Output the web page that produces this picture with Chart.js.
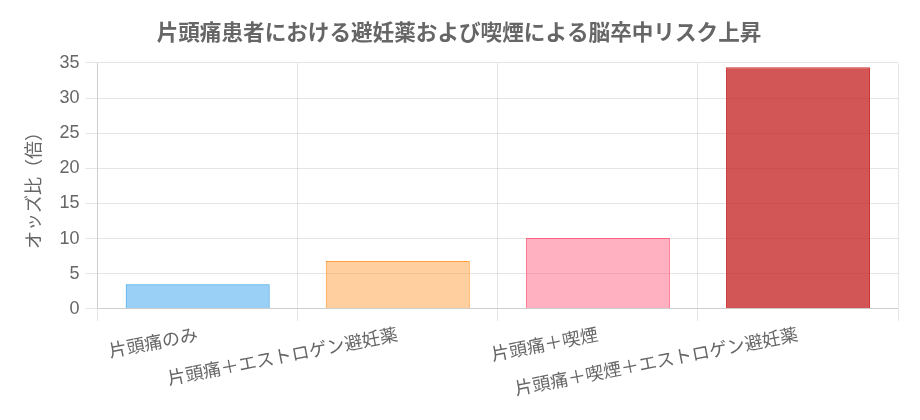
<!DOCTYPE html>
<html>
<head>
<meta charset="utf-8">
<script src="https://cdn.jsdelivr.net/npm/chart.js@4.4.0/dist/chart.umd.min.js"></script>
<style>
html,body{margin:0;padding:0;background:#fff;}
#wrap{width:920px;height:420px;position:relative;}
</style>
</head>
<body>
<div id="wrap"><canvas id="c"></canvas></div>
<script>
const categories = ['片頭痛のみ', '片頭痛＋エストロゲン避妊薬', '片頭痛＋喫煙', '片頭痛＋喫煙＋エストロゲン避妊薬'];
const oddsRatios = [3.5, 6.8, 10.1, 34.4];
const fillColors = ['rgba(54,162,235,0.5)', 'rgba(255,159,64,0.5)', 'rgba(255,99,132,0.5)', 'rgba(195,30,30,0.75)'];
const borderColors = ['rgb(54,162,235)', 'rgb(255,159,64)', 'rgb(255,99,132)', 'rgb(205,50,50)'];
const titleText = '片頭痛患者における避妊薬および喫煙による脳卒中リスク上昇';
const yTitle = 'オッズ比（倍）';

Chart.defaults.font.family = "'Liberation Sans', 'Noto Sans CJK JP', sans-serif";
Chart.defaults.color = '#666';

new Chart(document.getElementById('c'), {
  type: 'bar',
  data: {
    labels: categories,
    datasets: [{
      data: oddsRatios,
      backgroundColor: fillColors,
      borderColor: borderColors,
      borderWidth: 1
    }]
  },
  options: {
    responsive: true,
    maintainAspectRatio: false,
    animation: false,
    layout: { padding: { left: 20, right: 22, top: 10, bottom: 15 } },
    plugins: {
      legend: { display: false },
      title: {
        display: true,
        text: titleText,
        font: { size: 21.6, weight: 'bold' },
        color: '#666',
        padding: { top: 11, bottom: 16 }
      }
    },
    scales: {
      x: {
        ticks: { font: { size: 18 }, color: '#666', maxRotation: 11, minRotation: 11, autoSkip: false, padding: 4 },
        grid: { color: 'rgba(0,0,0,0.1)', tickLength: 12 }
      },
      y: {
        min: 0, max: 35,
        ticks: { stepSize: 5, font: { size: 18 }, color: '#666', padding: 6 },
        grid: { color: 'rgba(0,0,0,0.1)', tickLength: 12 },
        title: { display: true, text: yTitle, font: { size: 18 }, color: '#666', padding: { top: 4, bottom: 8 } }
      }
    }
  }
});
</script>
</body>
</html>
